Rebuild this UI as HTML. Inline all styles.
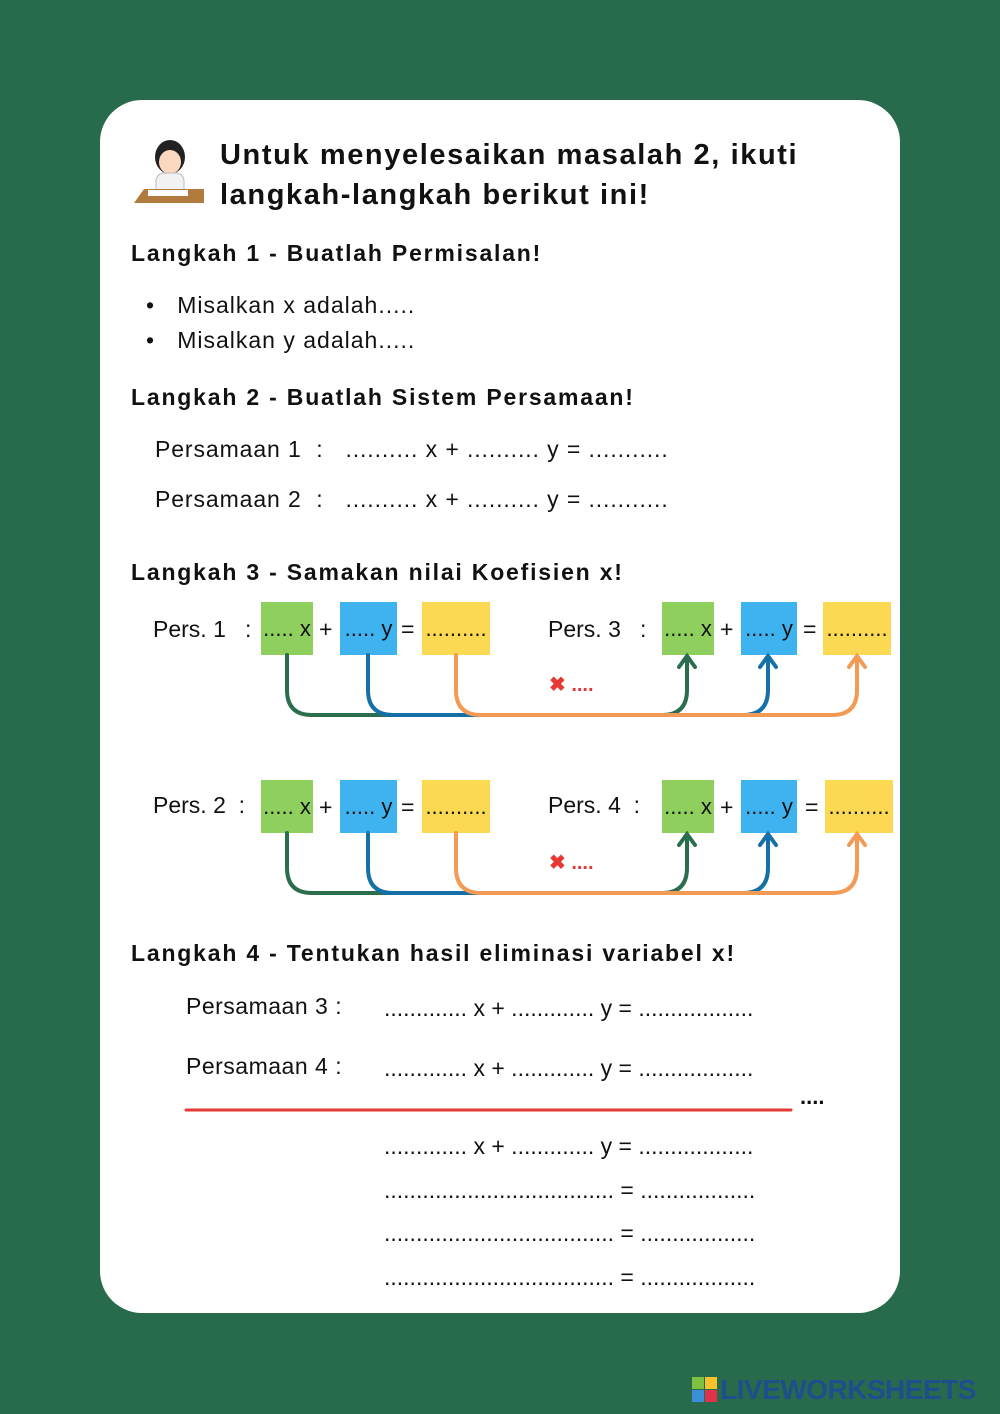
<!DOCTYPE html>
<html><head><meta charset="utf-8"><style>
*{margin:0;padding:0;box-sizing:border-box}
body{width:1000px;height:1414px;background:#276b4c;position:relative;overflow:hidden;font-family:"Liberation Sans",sans-serif;color:#111}
.card{position:absolute;left:100px;top:100px;width:800px;height:1213px;background:#fff;border-radius:42px}
.t{position:absolute;white-space:nowrap}
.b{font-weight:bold}
.h{font-size:23px;font-weight:bold;letter-spacing:1.8px}
.n{font-size:23px}
.box{position:absolute;height:53px;font-size:22px;line-height:53px;text-align:center}
.g{background:#8fcf5d}.bl{background:#3fb3ef}.y{background:#fcd953}
</style></head><body>
<div class="card"></div>
<svg style="position:absolute;left:128px;top:135px" width="80" height="80">
<ellipse cx="42" cy="22" rx="15" ry="17" fill="#222"/>
<ellipse cx="42" cy="27" rx="11" ry="12" fill="#fbd9c0"/>
<rect x="28" y="38" width="28" height="26" rx="8" fill="#f2f2f2" stroke="#bbb"/>
<polygon points="6,68 16,54 76,54 76,68" fill="#b07b3c"/>
<rect x="20" y="55" width="40" height="6" fill="#fff"/>
</svg>
<div class="t b" style="left:220px;top:135px;font-size:29px;line-height:40px;letter-spacing:1.6px">Untuk menyelesaikan masalah 2, ikuti<br>langkah-langkah berikut ini!</div>
<div class="t h" style="left:131px;top:240px">Langkah 1 - Buatlah Permisalan!</div>
<div class="t n" style="left:146px;top:292px;letter-spacing:1px">•&nbsp;&nbsp;&nbsp;Misalkan x adalah.....</div>
<div class="t n" style="left:146px;top:327px;letter-spacing:1px">•&nbsp;&nbsp;&nbsp;Misalkan y adalah.....</div>
<div class="t h" style="left:131px;top:384px">Langkah 2 - Buatlah Sistem Persamaan!</div>
<div class="t n" style="left:155px;top:436px;letter-spacing:0.9px">Persamaan 1 &nbsp;: &nbsp;&nbsp;.......... x + .......... y = ...........</div>
<div class="t n" style="left:155px;top:486px;letter-spacing:0.9px">Persamaan 2 &nbsp;: &nbsp;&nbsp;.......... x + .......... y = ...........</div>
<div class="t h" style="left:131px;top:559px">Langkah 3 - Samakan nilai Koefisien x!</div>

<div class="box g" style="left:261px;top:602px;width:52px">..... x</div>
<div class="box bl" style="left:340px;top:602px;width:57px">..... y</div>
<div class="box y" style="left:422px;top:602px;width:68px">..........</div>
<div class="box g" style="left:662px;top:602px;width:52px">..... x</div>
<div class="box bl" style="left:741px;top:602px;width:56px">..... y</div>
<div class="box y" style="left:823px;top:602px;width:68px">..........</div>
<div class="t n" style="left:153px;top:616px">Pers. 1 &nbsp;&nbsp;:</div>
<div class="t n" style="left:319px;top:616px">+</div>
<div class="t n" style="left:401px;top:616px">=</div>
<div class="t n" style="left:548px;top:616px">Pers. 3 &nbsp;&nbsp;:</div>
<div class="t n" style="left:720px;top:616px">+</div>
<div class="t n" style="left:803px;top:616px">=</div>
<div class="t b" style="left:549px;top:672px;color:#e53935;font-size:20px">✖ ....</div>

<div class="box g" style="left:261px;top:780px;width:52px">..... x</div>
<div class="box bl" style="left:340px;top:780px;width:57px">..... y</div>
<div class="box y" style="left:422px;top:780px;width:68px">..........</div>
<div class="box g" style="left:662px;top:780px;width:52px">..... x</div>
<div class="box bl" style="left:741px;top:780px;width:56px">..... y</div>
<div class="box y" style="left:825px;top:780px;width:68px">..........</div>
<div class="t n" style="left:153px;top:792px">Pers. 2 &nbsp;:</div>
<div class="t n" style="left:319px;top:794px">+</div>
<div class="t n" style="left:401px;top:794px">=</div>
<div class="t n" style="left:548px;top:792px">Pers. 4 &nbsp;:</div>
<div class="t n" style="left:720px;top:794px">+</div>
<div class="t n" style="left:805px;top:794px">=</div>
<div class="t b" style="left:549px;top:850px;color:#e53935;font-size:20px">✖ ....</div>

<svg style="position:absolute;left:0;top:0" width="1000" height="1414" fill="none" stroke-width="4" stroke-linecap="round">
<g>
<path d="M287 655 V690 Q287 715 312 715 H662 Q687 715 687 690 V660" stroke="#2b6e4e"/>
<path d="M368 655 V690 Q368 715 393 715 H743 Q768 715 768 690 V660" stroke="#1670a8"/>
<path d="M456 655 V690 Q456 715 481 715 H832 Q857 715 857 690 V660" stroke="#f39a55"/>
<path d="M679 667 L687 656 L695 667" stroke="#2b6e4e"/>
<path d="M760 667 L768 656 L776 667" stroke="#1670a8"/>
<path d="M849 667 L857 656 L865 667" stroke="#f39a55"/>
</g>
<g transform="translate(0,178)">
<path d="M287 655 V690 Q287 715 312 715 H662 Q687 715 687 690 V660" stroke="#2b6e4e"/>
<path d="M368 655 V690 Q368 715 393 715 H743 Q768 715 768 690 V660" stroke="#1670a8"/>
<path d="M456 655 V690 Q456 715 481 715 H832 Q857 715 857 690 V660" stroke="#f39a55"/>
<path d="M679 667 L687 656 L695 667" stroke="#2b6e4e"/>
<path d="M760 667 L768 656 L776 667" stroke="#1670a8"/>
<path d="M849 667 L857 656 L865 667" stroke="#f39a55"/>
</g>
<line x1="186" y1="1110" x2="791" y2="1110" stroke="#e53935" stroke-width="3"/>
</svg>

<div class="t h" style="left:131px;top:940px">Langkah 4 - Tentukan hasil eliminasi variabel x!</div>
<div class="t n" style="left:186px;top:993px;letter-spacing:0.5px">Persamaan 3 :</div>
<div class="t n" style="left:384px;top:995px">............. x + ............. y = ..................</div>
<div class="t n" style="left:186px;top:1053px;letter-spacing:0.5px">Persamaan 4 :</div>
<div class="t n" style="left:384px;top:1055px">............. x + ............. y = ..................</div>
<div class="t b" style="left:800px;top:1084px;font-size:22px">....</div>
<div class="t n" style="left:384px;top:1133px">............. x + ............. y = ..................</div>
<div class="t n" style="left:384px;top:1177px">.................................... = ..................</div>
<div class="t n" style="left:384px;top:1220px">.................................... = ..................</div>
<div class="t n" style="left:384px;top:1264px">.................................... = ..................</div>

<div class="t" style="left:692px;top:1377px;width:26px;height:26px">
<div style="position:absolute;left:0;top:0;width:12px;height:12px;background:#7cc142"></div>
<div style="position:absolute;left:13px;top:0;width:12px;height:12px;background:#f6c12b"></div>
<div style="position:absolute;left:0;top:13px;width:12px;height:12px;background:#3b8fd8"></div>
<div style="position:absolute;left:13px;top:13px;width:12px;height:12px;background:#e2314a"></div>
</div>
<div class="t b" style="left:720px;top:1374px;font-size:28px;color:#1c4f8c;letter-spacing:-0.5px">LIVEWORKSHEETS</div>
</body></html>
